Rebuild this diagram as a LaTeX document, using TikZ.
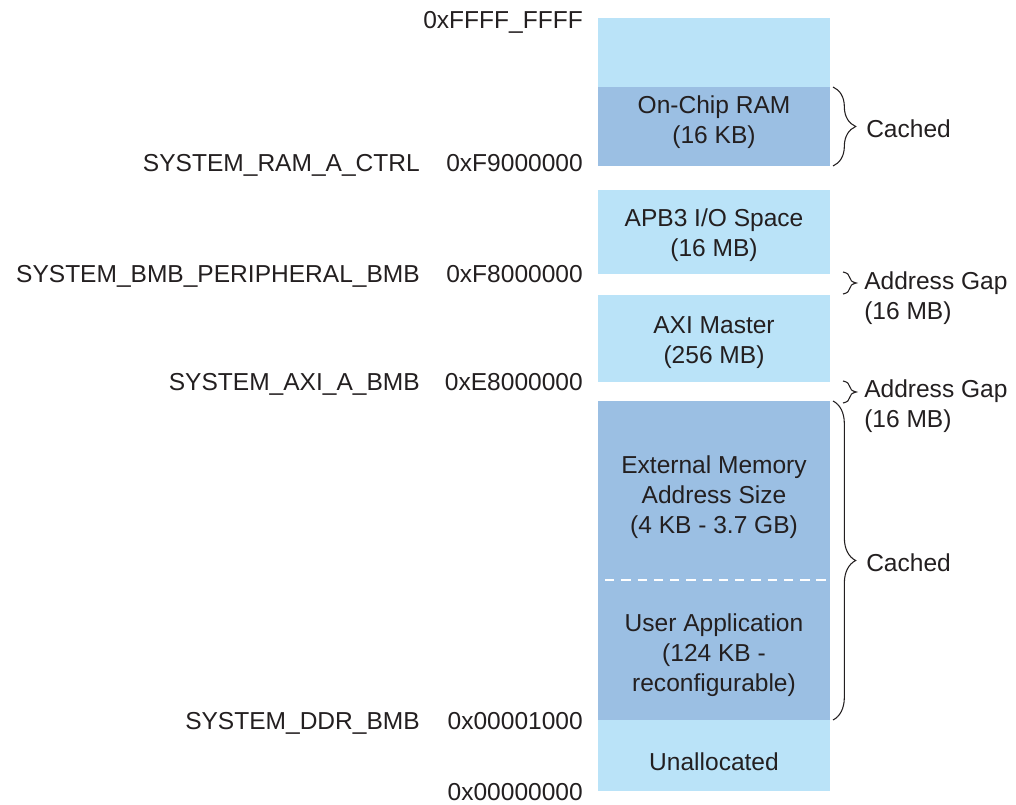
\documentclass[tikz,border=0pt]{standalone}
\usepackage{fontspec}
\setmainfont{Liberation Sans}
\usetikzlibrary{decorations.pathreplacing}
\definecolor{lightblk}{HTML}{BAE3F8}
\definecolor{darkblk}{HTML}{9BBFE3}
\definecolor{txt}{HTML}{231F20}
\begin{document}
\begin{tikzpicture}[x=0.75pt,y=-0.75pt,
  every node/.style={text=txt,font=\fontsize{18.4}{22.5}\selectfont},
  lblock/.style={fill=lightblk,draw=none,inner sep=0pt,anchor=north west,minimum width=174pt},
  dblock/.style={fill=darkblk,draw=none,inner sep=0pt,anchor=north west,minimum width=174pt},
  btext/.style={align=center,inner sep=0pt},
  addr/.style={anchor=base east,inner sep=0pt},
  sidelbl/.style={anchor=west,align=left,inner sep=0pt},
  bracestyle/.style={draw=txt,line width=0.8pt,decorate,decoration={brace,amplitude=#1}}
]
\useasboundingbox (0,0) rectangle (1016,805);
% blocks
\node[lblock,minimum height=51.75pt] (top) at (598,18) {};
\node[dblock,minimum height=59.25pt] (ram) at (598,87) {};
\node[lblock,minimum height=63pt] (apb) at (598,190) {};
\node[lblock,minimum height=65.25pt] (axi) at (598,295) {};
\node[dblock,minimum height=239.25pt] (ext) at (598,401) {};
\node[lblock,minimum height=53.25pt] (unal) at (598,720) {};
% dashed divider
\coordinate (dl) at (605,580);
\coordinate (dr) at (826,580);
\draw[white,line width=1.4pt,dash pattern=on 7pt off 5.2pt] (dl) -- (dr);
% block texts
\node[btext] (ramt) at (714,122) {On-Chip RAM\\(16 KB)};
\node[btext] (apbt) at (714,235) {APB3 I/O Space\\(16 MB)};
\node[btext] (axit) at (714,343) {AXI Master\\(256 MB)};
\node[btext] (extt) at (714,497) {External Memory\\Address Size\\(4 KB - 3.7 GB)};
\node[btext] (usrt) at (714,655) {User Application\\(124 KB -\\reconfigurable)};
\node[btext] (unalt) at (714,762) {Unallocated};
% addresses
\node[addr] (a0) at (583,29) {0xFFFF\_FFFF};
\node[addr] (a1) at (583,172) {0xF9000000};
\node[addr] (a2) at (583,282) {0xF8000000};
\node[addr] (a3) at (583,390) {0xE8000000};
\node[addr] (a4) at (583,729) {0x00001000};
\node[addr] (a5) at (583,800) {0x00000000};
% names
\node[addr] (n1) at (420,172) {SYSTEM\_RAM\_A\_CTRL};
\node[addr] (n2) at (420,282) {SYSTEM\_BMB\_PERIPHERAL\_BMB};
\node[addr] (n3) at (420,390) {SYSTEM\_AXI\_A\_BMB};
\node[addr] (n4) at (420,729) {SYSTEM\_DDR\_BMB};
% braces
\coordinate (b1s) at (833,87);  \coordinate (b1e) at (833,166);
\coordinate (b2s) at (843,272); \coordinate (b2e) at (843,294);
\coordinate (b3s) at (843,381); \coordinate (b3e) at (843,403);
\coordinate (b4s) at (833,401); \coordinate (b4e) at (833,720);
\draw[bracestyle=17pt] (b1s) -- (b1e);
\draw[bracestyle=10pt] (b2s) -- (b2e);
\draw[bracestyle=10pt] (b3s) -- (b3e);
\draw[bracestyle=17pt] (b4s) -- (b4e);
% side labels
\node[sidelbl] (c1) at (866,129) {Cached};
\node[sidelbl] (g1) at (864,298) {Address Gap\\(16 MB)};
\node[sidelbl] (g2) at (864,406) {Address Gap\\(16 MB)};
\node[sidelbl] (c2) at (866,563) {Cached};
\end{tikzpicture}
\end{document}
